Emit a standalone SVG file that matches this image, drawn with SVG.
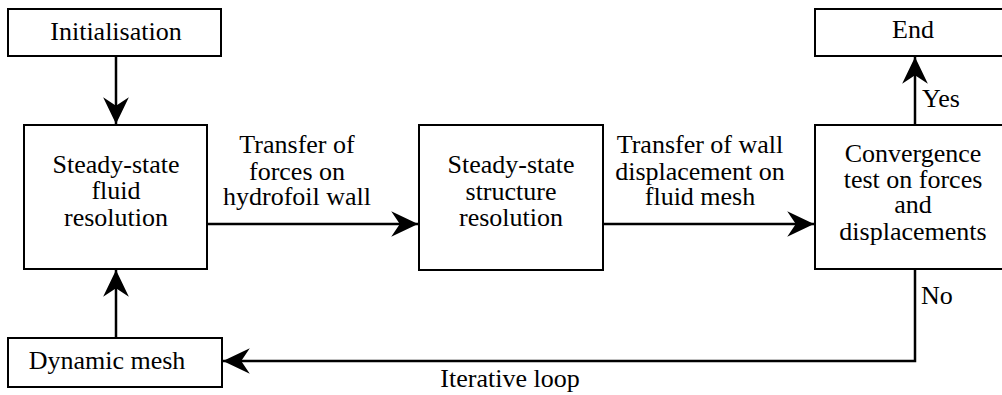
<svg xmlns="http://www.w3.org/2000/svg" width="1002" height="395" viewBox="0 0 1002 395">
<style>
.box{fill:#fff;stroke:#000;stroke-width:2}
.t{font-family:"Liberation Serif","Times New Roman",serif;font-size:26px;fill:#000;text-anchor:middle}
.s{text-anchor:start}
.c{fill:none;stroke:#000;stroke-width:2.5}
</style>
<defs>
<marker id="ah" markerUnits="userSpaceOnUse" markerWidth="30" markerHeight="30" viewBox="-26 -14 28 28" refX="0" refY="0" orient="auto">
<path d="M0,0 L-25,-12 L-17,0 L-25,12 Z" fill="#000"/>
</marker>
</defs>
<g id="connectors">
<line class="c" x1="116" y1="56" x2="116" y2="124" marker-end="url(#ah)"/>
<line class="c" x1="207" y1="224" x2="418" y2="224" marker-end="url(#ah)"/>
<line class="c" x1="603" y1="224" x2="814" y2="224" marker-end="url(#ah)"/>
<line class="c" x1="915" y1="125" x2="915" y2="57" marker-end="url(#ah)"/>
<polyline class="c" points="915,269 915,361 223,361" marker-end="url(#ah)"/>
<line class="c" x1="116" y1="338" x2="116" y2="270" marker-end="url(#ah)"/>
<text class="t" x="297" y="153">Transfer of</text>
<text class="t" x="297" y="180">forces on</text>
<text class="t" x="297" y="205">hydrofoil wall</text>
<text class="t" x="700" y="153">Transfer of wall</text>
<text class="t" x="700" y="180">displacement on</text>
<text class="t" x="700" y="205">fluid mesh</text>
<text class="t s" x="922" y="107">Yes</text>
<text class="t s" x="921" y="304">No</text>
<text class="t" x="510" y="387">Iterative loop</text>
</g>
<g id="init">
<rect class="box" x="8" y="9" width="213" height="47"/>
<text class="t" x="116" y="40">Initialisation</text>
</g>
<g id="fluid">
<rect class="box" x="24" y="125" width="183" height="144"/>
<text class="t" x="116" y="173">Steady-state</text>
<text class="t" x="116" y="199">fluid</text>
<text class="t" x="116" y="226">resolution</text>
</g>
<g id="structure">
<rect class="box" x="419" y="125" width="184" height="145"/>
<text class="t" x="511" y="173">Steady-state</text>
<text class="t" x="511" y="200">structure</text>
<text class="t" x="511" y="226">resolution</text>
</g>
<g id="convergence">
<rect class="box" x="815" y="125" width="190" height="144"/>
<text class="t" x="913" y="162">Convergence</text>
<text class="t" x="913" y="188">test on forces</text>
<text class="t" x="913" y="213">and</text>
<text class="t" x="913" y="240">displacements</text>
</g>
<g id="end">
<rect class="box" x="815" y="9" width="190" height="47"/>
<text class="t" x="913" y="38">End</text>
</g>
<g id="dynmesh">
<rect class="box" x="8" y="338" width="214" height="49"/>
<text class="t" x="107" y="369">Dynamic mesh</text>
</g>
</svg>
